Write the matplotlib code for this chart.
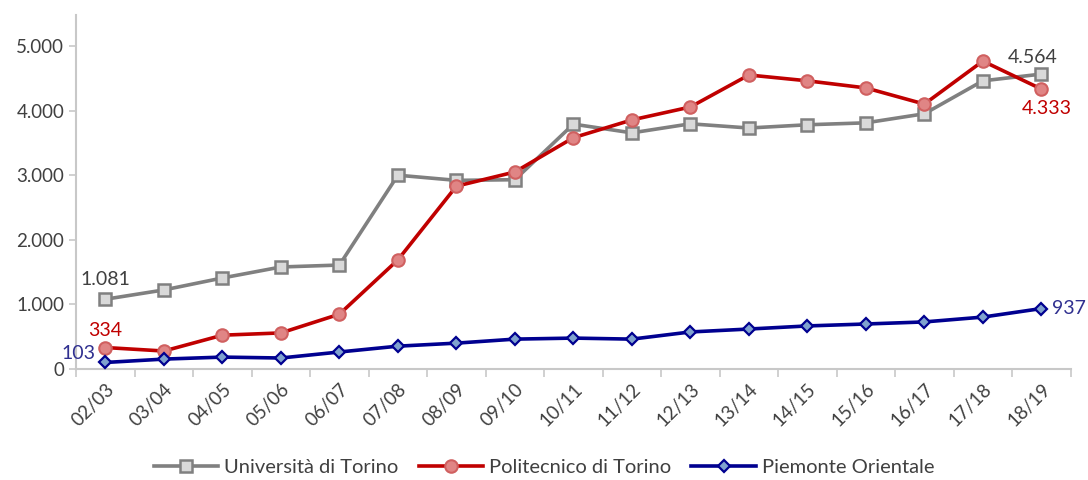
import numpy as np
import matplotlib
matplotlib.use('Agg')
import matplotlib.pyplot as plt
from matplotlib.ticker import FuncFormatter, FixedLocator

plt.rcParams['font.family'] = ['Lato', 'DejaVu Sans']

years = ['02/03', '03/04', '04/05', '05/06', '06/07', '07/08', '08/09', '09/10',
         '10/11', '11/12', '12/13', '13/14', '14/15', '15/16', '16/17', '17/18', '18/19']
unito = [1081, 1225, 1410, 1580, 1610, 3000, 2920, 2930, 3790, 3655, 3795,
         3730, 3780, 3810, 3950, 4460, 4564]
polito = [334, 280, 525, 560, 850, 1690, 2830, 3050, 3580, 3855, 4055,
          4550, 4460, 4350, 4100, 4765, 4333]
upo = [103, 155, 186, 172, 265, 355, 402, 464, 480, 464, 575,
       620, 668, 698, 730, 805, 937]

fig = plt.figure(figsize=(10.88, 4.8), dpi=100)
ax = fig.add_axes([0.07, 0.231, 0.914, 0.738])

x = np.arange(len(years))
ax.plot(x, unito, color='#808080', lw=2.6, marker='s', ms=9,
        mfc='#d9d9d9', mec='#808080', mew=1.8, label='Università di Torino', zorder=3)
ax.plot(x, polito, color='#c00000', lw=2.6, marker='o', ms=9,
        mfc='#e08585', mec='#d06060', mew=1.5, label='Politecnico di Torino', zorder=4)
ax.plot(x, upo, color='#000090', lw=2.6, marker='D', ms=6.5,
        mfc='#7fa2cf', mec='#000090', mew=1.6, label='Piemonte Orientale', zorder=5)

fmt = lambda v: f'{v:,.0f}'.replace(',', '.')

# etichette dati
ax.annotate(fmt(unito[0]), (x[0], unito[0]), xytext=(0, 8), textcoords='offset points',
            ha='center', va='bottom', fontsize=14, color='#404040')
ax.annotate(fmt(polito[0]), (x[0], polito[0]), xytext=(0, 6), textcoords='offset points',
            ha='center', va='bottom', fontsize=14, color='#c00000')
ax.annotate(fmt(upo[0]), (x[0], upo[0]), xytext=(-7, 0), textcoords='offset points',
            ha='right', va='bottom', fontsize=14, color='#303090')
ax.annotate(fmt(unito[-1]), (x[-1], unito[-1]), xytext=(-6, 6), textcoords='offset points',
            ha='center', va='bottom', fontsize=14, color='#404040')
ax.annotate(fmt(polito[-1]), (x[-1], polito[-1]), xytext=(4, -8), textcoords='offset points',
            ha='center', va='top', fontsize=14, color='#c00000')
ax.annotate(fmt(upo[-1]), (x[-1], upo[-1]), xytext=(8, 0), textcoords='offset points',
            ha='left', va='center', fontsize=14, color='#303090')

ax.set_xlim(-0.5, len(years) - 0.5)
ax.set_ylim(0, 5480)
ax.set_yticks([0, 1000, 2000, 3000, 4000, 5000])
ax.yaxis.set_major_formatter(FuncFormatter(lambda v, p: fmt(v)))
ax.set_xticks(x)
ax.set_xticklabels(years, rotation=45, ha='right', rotation_mode='anchor')
ax.xaxis.set_minor_locator(FixedLocator(np.arange(-0.5, len(years), 1)))
ax.tick_params(axis='x', which='major', length=0, pad=8, labelsize=13.5, labelcolor='#404040')
ax.tick_params(axis='x', which='minor', length=6, color='#c8c8c8', width=1.2, direction='out')
ax.tick_params(axis='y', length=5, color='#c8c8c8', width=1.2, labelsize=13.5, labelcolor='#404040')

for s in ['top', 'right']:
    ax.spines[s].set_visible(False)
for s in ['left', 'bottom']:
    ax.spines[s].set_color('#c8c8c8')
    ax.spines[s].set_linewidth(1.5)

fig.legend(loc='center', bbox_to_anchor=(0.5, 0.027), ncol=3, frameon=False,
           fontsize=14.5, handlelength=3.2, columnspacing=1.0, handletextpad=0.3,
           labelcolor='#404040')

plt.savefig('out.png', dpi=100)
